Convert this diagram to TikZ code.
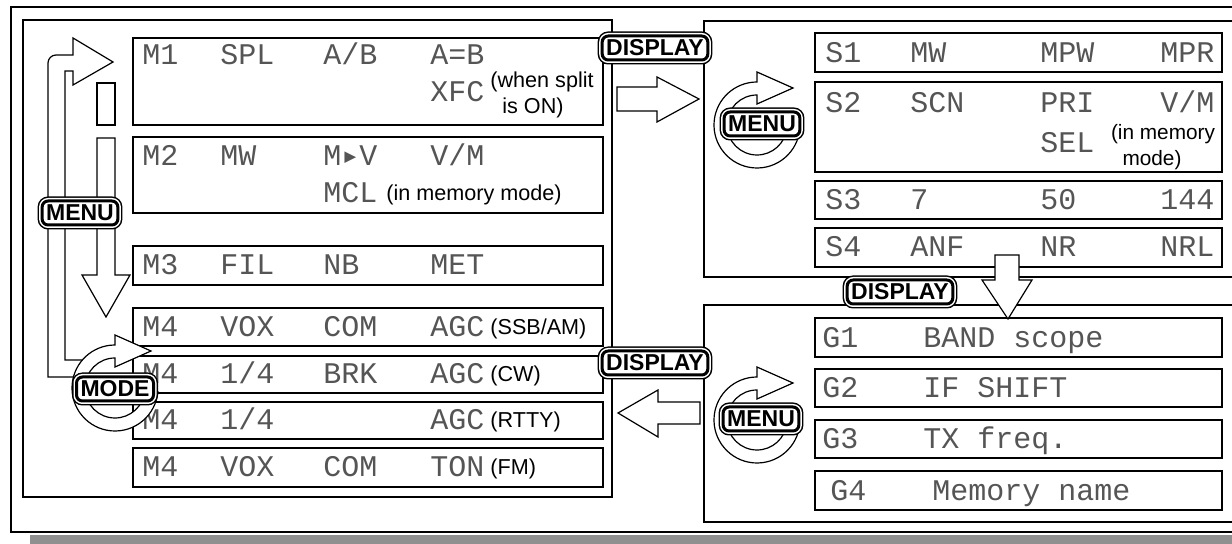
\documentclass[tikz,border=0pt]{standalone}
\usepackage{fontspec}
\setmainfont{Liberation Sans}
\newfontfamily\lcdfont{Liberation Mono}
\newfontfamily\lcdsym{DejaVu Sans Mono}
\usepackage{xcolor}
\definecolor{lcdink}{HTML}{555555}
\definecolor{halftone}{HTML}{909090}
\usepackage{tikz}
\usetikzlibrary{positioning}
\newcommand{\ringarrow}[1]{%
  \begin{scope}[shift={#1}]
    \draw[ring] (-90:43) -- (0,-53) -- (36,-37) -- (0,-21) -- (-90:30)
      arc[start angle=-90, end angle=-355, radius=30] -- (-355:43)
      arc[start angle=-355, end angle=-90, radius=43] -- cycle;
  \end{scope}}

\begin{document}
\begin{tikzpicture}[x=0.5pt, y=-0.5pt,
    panel/.style={line width=1.3pt},
    lcd/.style={line width=0.6pt},
    ring/.style={draw, fill=white, line width=0.6pt},
    hollow/.style={draw, fill=white, line width=0.6pt},
    seg/.style={font=\fontsize{15}{15}\lcdfont, text=lcdink, anchor=base west, inner sep=0pt},
    note/.style={font=\fontsize{10.8}{12}\selectfont, anchor=base west, inner sep=0pt},
    btn/.style={draw, fill=white, line width=1.5pt, rounded corners=3pt,
      font=\fontsize{11.5}{12}\selectfont\bfseries, inner xsep=2pt, inner ysep=1pt,
      minimum height=12pt,
      preaction={draw=black, line width=4.5pt},
      preaction={draw=white, line width=3pt}}]
  \useasboundingbox (0,0) rectangle (1232,544);
  \clip (0,0) rectangle (1232,544);

  \fill[halftone] (30,535) rectangle (1240,544);
  \draw[line width=1pt] (1250,7) -- (11,7) -- (11,532) -- (1250,532);
  \draw[panel] (23,20) rectangle (612,497);
  \draw[panel] (1250,21) -- (704,21) -- (704,277) -- (1250,277);
  \draw[panel] (1250,305) -- (704,305) -- (704,522) -- (1250,522);

  \foreach \ya/\yb in {38/125, 137/213, 246/285, 308/346, 356/393, 402/439, 448/487}
    \draw[lcd] (133,\ya) rectangle (603,\yb);
  \foreach \ya/\yb in {33/72, 82/172, 181/219, 228/267, 318/357, 369/407, 420/458, 471/510}
    \draw[lcd] (815,\ya) rectangle (1222,\yb);

  \node[seg] (m1a) at (142,65) {M1};  \node[seg] (m1b) at (220,65) {SPL};
  \node[seg] (m1c) at (323,65) {A/B}; \node[seg] (m1d) at (430,65) {A=B};
  \node[seg] (xfc) at (430,102) {XFC};
  \node[note] (splitnote) at (490,88) {(when split};
  \node[note] (splitnoteb) at (502,114) {is ON)};
  \node[seg] (m2a) at (142,166) {M2};  \node[seg] (m2b) at (220,166) {MW};
  \node[seg] (m2c) at (323,166) {M{\lcdsym ▸}V}; \node[seg] (m2d) at (430,166) {V/M};
  \node[seg] (mcl) at (323,203) {MCL};
  \node[note] (memnote) at (386,201) {(in memory mode)};
  \node[seg] (m3a) at (142,275) {M3};  \node[seg] (m3b) at (220,275) {FIL};
  \node[seg] (m3c) at (323,275) {NB};  \node[seg] (m3d) at (430,275) {MET};
  \node[seg] (ssba) at (142,337) {M4}; \node[seg] (ssbb) at (220,337) {VOX};
  \node[seg] (ssbc) at (323,337) {COM}; \node[seg] (ssbd) at (430,337) {AGC};
  \node[note] (ssbnote) at (490,335) {(SSB/AM)};
  \node[seg] (cwa) at (142,384) {M4}; \node[seg] (cwb) at (220,384) {1/4};
  \node[seg] (cwc) at (323,384) {BRK}; \node[seg] (cwd) at (430,384) {AGC};
  \node[note] (cwnote) at (490,382) {(CW)};
  \node[seg] (rttya) at (142,430) {M4}; \node[seg] (rttyb) at (220,430) {1/4};
  \node[seg] (rttyd) at (430,430) {AGC};
  \node[note] (rttynote) at (490,428) {(RTTY)};
  \node[seg] (fma) at (142,477) {M4}; \node[seg] (fmb) at (220,477) {VOX};
  \node[seg] (fmc) at (323,477) {COM}; \node[seg] (fmd) at (430,477) {TON};
  \node[note] (fmnote) at (490,475) {(FM)};

  \node[seg] (s1a) at (825,63) {S1};  \node[seg] (s1b) at (910,63) {MW};
  \node[seg] (s1c) at (1040,63) {MPW}; \node[seg] (s1d) at (1160,63) {MPR};
  \node[seg] (s2a) at (825,113) {S2};  \node[seg] (s2b) at (910,113) {SCN};
  \node[seg] (s2c) at (1040,113) {PRI}; \node[seg] (s2d) at (1160,113) {V/M};
  \node[seg] (sel) at (1040,153) {SEL};
  \node[note, anchor=base, font=\fontsize{10.4}{12}\selectfont] (vmnote) at (1163,140) {(in memory};
  \node[note, anchor=base, font=\fontsize{10.4}{12}\selectfont] (vmnoteb) at (1152,166) {mode)};
  \node[seg] (s3a) at (825,210) {S3};  \node[seg] (s3b) at (910,210) {7};
  \node[seg] (s3c) at (1040,210) {50}; \node[seg] (s3d) at (1160,210) {144};
  \node[seg] (s4a) at (825,257) {S4};  \node[seg] (s4b) at (910,257) {ANF};
  \node[seg] (s4c) at (1040,257) {NR}; \node[seg] (s4d) at (1160,257) {NRL};

  \node[seg] (g1a) at (822,348) {G1}; \node[seg] (g1b) at (923,348) {BAND scope};
  \node[seg] (g2a) at (822,398) {G2}; \node[seg] (g2b) at (923,398) {IF SHIFT};
  \node[seg] (g3a) at (822,449) {G3}; \node[seg] (g3b) at (923,449) {TX freq.};
  \node[seg] (g4a) at (830,501) {G4}; \node[seg] (g4b) at (932,501) {Memory name};

  \draw[lcd] (90,377) -- (48,377) -- (48,63) arc[start angle=180, end angle=270, radius=8]
    -- (73,55) -- (73,38) -- (113,62) -- (73,85) -- (73,71) -- (65,71) -- (65,360) -- (95,360);
  \draw[hollow] (97,83) rectangle (115,125);
  \draw[hollow] (97,138) -- (115,138) -- (115,275) -- (130,275) -- (106,317) -- (82,275) -- (97,275) -- cycle;

  \ringarrow{(115,388)}
  \ringarrow{(757,125)}
  \ringarrow{(757,420)}

  \draw[hollow] (617,87) -- (657,87) -- (657,77) -- (699,99) -- (657,122) -- (657,111) -- (617,111) -- cycle;
  \draw[hollow] (700,402) -- (658,402) -- (658,390) -- (618,413) -- (658,437) -- (658,424) -- (700,424) -- cycle;
  \draw[hollow] (995,255) -- (1019,255) -- (1019,280) -- (1032,280) -- (1008,319) -- (982,280) -- (995,280) -- cycle;

  \node[btn] (dispa) at (655,48) {DISPLAY};
  \node[btn] (dispb) at (655,363) {DISPLAY};
  \node[btn] (dispc) at (900,292) {DISPLAY};
  \node[btn] (menul) at (80,213) {MENU};
  \node[btn] (menur) at (762,124) {MENU};
  \node[btn] (menug) at (761,419) {MENU};
  \node[btn] (mode) at (115,389) {MODE};
\end{tikzpicture}
\end{document}
